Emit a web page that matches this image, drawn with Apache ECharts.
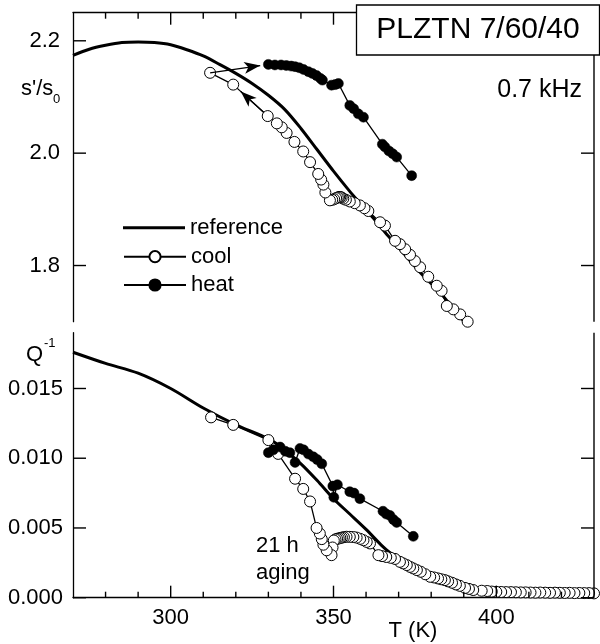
<!DOCTYPE html>
<html>
<head>
<meta charset="utf-8">
<script src="https://cdn.jsdelivr.net/npm/echarts@6/dist/echarts.min.js"></script>
<style>
  html, body { margin: 0; padding: 0; background: #fff; }
  #chart { width: 600px; height: 644px; }
</style>
</head>
<body>
<div id="chart"></div>
<script>
// ---- temperature axis ----
const tempLabels = [300, 350, 400];
const tempTicks = [280, 290, 300, 310, 320, 330, 340, 350, 360, 370, 380, 390, 400, 410, 420];

// ---- s'/s0 panel ----
const sTicks = [1.8, 2.0, 2.2];
const refTempS = [270, 275, 280, 285, 290, 295, 300, 305, 310, 315, 320, 325, 330, 335, 340, 345, 350, 355, 358, 362, 366, 370, 374, 378, 382, 386, 390];
const refS = [2.174, 2.185, 2.192, 2.197, 2.198, 2.197, 2.193, 2.184, 2.173, 2.158, 2.142, 2.124, 2.103, 2.078, 2.044, 2.006, 1.968, 1.932, 1.912, 1.886, 1.858, 1.832, 1.805, 1.779, 1.757, 1.729, 1.701];

const coolTempS = [391.2, 388.9, 386.8, 384.8, 383.2, 381.7, 379.1, 376.6, 375.0, 373.5,
  372.0, 370.4, 368.9, 365.8, 364.3, 360.7, 359.5, 358.1, 356.5, 355.0,
  353.8, 353.0, 352.5, 352.1, 351.7, 351.3, 350.8, 350.2, 349.6, 348.9,
  347.5, 346.9, 346.2, 345.3, 342.8, 340.7, 338.0, 335.6, 334.1, 332.6,
  329.8, 319.2, 312.1];
const coolS = [1.700, 1.713, 1.722, 1.728, 1.755, 1.764, 1.780, 1.797, 1.808, 1.819,
  1.829, 1.838, 1.844, 1.871, 1.877, 1.897, 1.902, 1.907, 1.911, 1.914,
  1.917, 1.919, 1.921, 1.922, 1.922, 1.921, 1.920, 1.918, 1.917, 1.916,
  1.930, 1.944, 1.953, 1.963, 1.984, 2.003, 2.020, 2.036, 2.046, 2.053,
  2.066, 2.122, 2.143];

const heatTempS = [330.0, 332.0, 333.9, 335.5, 337.0, 338.2, 339.5, 340.8, 342.3, 343.5,
  344.8, 346.0, 346.6, 349.4, 350.5, 351.5, 355.0, 356.2, 357.6, 359.2,
  365.0, 365.8, 367.0, 368.2, 369.4, 374.0];
const heatS = [2.158, 2.157, 2.157, 2.156, 2.155, 2.154, 2.152, 2.149, 2.145, 2.142,
  2.138, 2.133, 2.130, 2.121, 2.122, 2.124, 2.085, 2.079, 2.070, 2.064,
  2.016, 2.011, 2.004, 1.999, 1.993, 1.960];

// ---- Q^-1 panel ----
const qTicks = [0, 0.005, 0.010, 0.015];
const refTempQ = [270, 280, 290, 300, 310, 320, 330, 335, 340, 345, 350, 355, 360, 365, 368];
const refQ = [0.0176, 0.0168, 0.0161, 0.0150, 0.0136, 0.0124, 0.0114, 0.0106, 0.0096, 0.0084, 0.0071, 0.0060, 0.0049, 0.0037, 0.0031];

const coolTempQ = [430.0, 428.5, 427.0, 425.5, 424.0, 422.5, 421.0, 419.5, 418.0, 416.5,
  415.0, 413.5, 412.0, 410.5, 409.0, 407.5, 406.0, 404.5, 403.0, 401.5,
  400.0, 398.6, 397.2, 395.5, 392.9, 391.6, 390.4, 388.8, 387.6, 386.4,
  385.2, 384.2, 383.1, 382.1, 380.9, 379.7, 378.2, 376.8, 375.6, 374.5,
  373.5, 372.5, 371.4, 370.4, 368.9, 367.6, 366.2, 364.9, 363.8, 361.2,
  360.2, 359.2, 358.2, 357.1, 356.1, 355.0, 354.0, 353.2, 352.6, 352.1,
  351.6, 351.1, 350.6, 350.1, 349.7, 349.4, 347.9, 346.9, 346.4, 345.8,
  344.8, 342.8, 340.7, 338.2, 333.0, 330.0, 319.2, 312.4];
const coolQ = [0.00031, 0.00033, 0.00033, 0.00034, 0.00033, 0.00035, 0.00034, 0.00035, 0.00036, 0.00035,
  0.00036, 0.00037, 0.00036, 0.00037, 0.00038, 0.00038, 0.00039, 0.00040, 0.00040, 0.00041,
  0.00042, 0.00044, 0.00048, 0.00050, 0.00055, 0.00063, 0.00070, 0.00085, 0.00095, 0.00107,
  0.00117, 0.00126, 0.00132, 0.00138, 0.00145, 0.00150, 0.00168, 0.00186, 0.00198, 0.00210,
  0.00221, 0.00234, 0.00246, 0.00257, 0.00278, 0.00286, 0.00292, 0.00298, 0.00305, 0.00389,
  0.00400, 0.00412, 0.00422, 0.00431, 0.00435, 0.00436, 0.00437, 0.00434, 0.00431, 0.00428,
  0.00425, 0.00422, 0.00418, 0.00410, 0.00360, 0.00305, 0.00340, 0.00380, 0.00420, 0.00460,
  0.00500, 0.00690, 0.00780, 0.00853, 0.01031, 0.01130, 0.01239, 0.01293];

const heatTempQ = [330.0, 331.5, 333.6, 335.2, 336.6, 338.2, 339.7, 340.8, 342.3, 343.8,
  345.0, 346.4, 349.8, 350.1, 351.2, 355.0, 356.3, 358.1, 365.2, 366.2,
  367.3, 368.4, 369.4, 374.5];
const heatQ = [0.0104, 0.0106, 0.0108, 0.0105, 0.0104, 0.0097, 0.0107, 0.0106, 0.0103, 0.0101,
  0.0099, 0.0096, 0.0080, 0.0072, 0.0081, 0.0076, 0.0075, 0.0071, 0.0062, 0.0060,
  0.0059, 0.0056, 0.0054, 0.0044];

const T_MIN = 270, T_MAX = 430;
const S_MIN = 1.70, S_MAX = 2.25;
const Q_MIN = 0, Q_MAX = 0.019;

const FONT = '"Liberation Sans", Arial, sans-serif';
const zip = (xs, ys) => xs.map((x, i) => [x, ys[i]]);
const lerp = (a, b, t) => [a[0] + (b[0] - a[0]) * t, a[1] + (b[1] - a[1]) * t];

const coolPtsS = zip(coolTempS, coolS);
const heatPtsS = zip(heatTempS, heatS);

// arrow along the cooling path (towards lower T)
const cA = coolPtsS[coolPtsS.length - 3];
const cB = coolPtsS[coolPtsS.length - 2];
const coolArrow = [lerp(cA, cB, 0.12), lerp(cA, cB, 0.78)];
// arrow from the end of cooling to the start of heating
const hA = coolPtsS[coolPtsS.length - 1];
const hB = heatPtsS[0];
const heatArrow = [hA, lerp(hA, hB, 0.86)];

const arrowMark = (seg) => ({
  silent: true,
  animation: false,
  symbol: ['none', 'arrow'],
  symbolSize: [9, 16],
  label: { show: false },
  emphasis: { disabled: true },
  lineStyle: { color: '#000', width: 1.3, type: 'solid' },
  data: [[{ coord: seg[0] }, { coord: seg[1] }]]
});

const axisCol = { color: '#000', width: 1.3 };

function tempAxis(gridIndex, position) {
  return {
    type: 'value', gridIndex, position, min: T_MIN, max: T_MAX,
    axisLine: { show: true, lineStyle: axisCol },
    axisTick: { show: false },
    axisLabel: { show: position === 'bottom', customValues: tempLabels,
      fontSize: 22, fontFamily: FONT, color: '#000', margin: 9 },
    splitLine: { show: false }
  };
}
function valAxis(gridIndex, min, max, ticks, digits, margin) {
  return {
    type: 'value', gridIndex, position: 'left', min, max,
    axisLine: { show: true, lineStyle: axisCol },
    axisTick: { show: false },
    axisLabel: { show: true, customValues: ticks, fontSize: 22, fontFamily: FONT,
      color: '#000', margin, formatter: v => Number(v).toFixed(digits) },
    splitLine: { show: false }
  };
}

const lineBase = { type: 'line', animation: false, clip: true, emphasis: { disabled: true } };
const coolStyle = {
  symbol: 'circle', symbolSize: 11,
  itemStyle: { color: '#fff', borderColor: '#000', borderWidth: 1 },
  lineStyle: { color: '#000', width: 1.3 }
};
const heatStyle = {
  symbol: 'circle', symbolSize: 10,
  itemStyle: { color: '#000', borderColor: '#000', borderWidth: 0.5 },
  lineStyle: { color: '#000', width: 1.3 }
};
const refStyle = {
  symbol: 'none', showSymbol: false, smooth: 0.3,
  lineStyle: { color: '#000', width: 3 },
  itemStyle: { color: '#000' }
};

const legendText = { fontSize: 22, lineHeight: 22, fontFamily: FONT, color: '#000' };
const legendRow = (name, top, extra) => Object.assign({
  data: [name], left: 118, top, itemWidth: 62, itemHeight: 14,
  selectedMode: false, textStyle: legendText
}, extra);

const chart = echarts.init(document.getElementById('chart'), null, { renderer: 'canvas' });

chart.setOption({
  animation: false,
  backgroundColor: '#fff',
  grid: [
    { left: 73, right: 6, top: 12.7, height: 309 },
    { left: 73, right: 6, top: 332.7, height: 265 }
  ],
  xAxis: [tempAxis(0, 'top'), tempAxis(1, 'bottom')],
  yAxis: [
    valAxis(0, S_MIN, S_MAX, sTicks, 1, 13),
    valAxis(1, Q_MIN, Q_MAX, qTicks, 3, 10)
  ],
  legend: [
    legendRow('reference', 211.7, { icon: 'rect', itemHeight: 3, itemStyle: { color: '#000' } }),
    legendRow('cool', 240.7),
    legendRow('heat', 269)
  ],
  series: [
    Object.assign({}, lineBase, refStyle, { name: 'reference', xAxisIndex: 0, yAxisIndex: 0, z: 2,
      data: zip(refTempS, refS) }),
    Object.assign({}, lineBase, coolStyle, { name: 'cool', xAxisIndex: 0, yAxisIndex: 0, z: 3,
      data: coolPtsS, markLine: arrowMark(coolArrow) }),
    Object.assign({}, lineBase, heatStyle, { name: 'heat', xAxisIndex: 0, yAxisIndex: 0, z: 4,
      data: heatPtsS, markLine: arrowMark(heatArrow) }),
    Object.assign({}, lineBase, refStyle, { name: 'reference', xAxisIndex: 1, yAxisIndex: 1, z: 2,
      data: zip(refTempQ, refQ) }),
    Object.assign({}, lineBase, coolStyle, { name: 'cool', xAxisIndex: 1, yAxisIndex: 1, z: 3,
      data: zip(coolTempQ, coolQ) }),
    Object.assign({}, lineBase, heatStyle, { name: 'heat', xAxisIndex: 1, yAxisIndex: 1, z: 4,
      data: zip(heatTempQ, heatQ) })
  ]
});

// ---- inward tick marks and right-hand frame, placed through the axis scales ----
const px = (i, v) => chart.convertToPixel({ xAxisIndex: i }, v);
const py = (i, v) => chart.convertToPixel({ yAxisIndex: i }, v);
const LW = 1.4;
// vertical stroke of thickness LW centred on x
const vBar = (x, y1, y2) => ({
  type: 'rect', z: 50, silent: true,
  shape: { x: x - LW / 2, y: Math.min(y1, y2), width: LW, height: Math.abs(y2 - y1) },
  style: { fill: '#000' }
});
// horizontal stroke of thickness LW centred on y
const hBar = (x1, x2, y) => ({
  type: 'rect', z: 50, silent: true,
  shape: { x: Math.min(x1, x2), y: y - LW / 2, width: Math.abs(x2 - x1), height: LW },
  style: { fill: '#000' }
});

const frame = [];
const panels = [
  { xi: 0, yi: 0, yMin: S_MIN, yMax: S_MAX, yTicks: sTicks, edge: 'top' },
  { xi: 1, yi: 1, yMin: Q_MIN, yMax: Q_MAX, yTicks: qTicks, edge: 'bottom' }
];
panels.forEach(p => {
  const xL = px(p.xi, T_MIN), xR = px(p.xi, T_MAX);
  const yTop = py(p.yi, p.yMax), yBot = py(p.yi, p.yMin);
  frame.push(vBar(xR, yTop, yBot));
  const yEdge = p.edge === 'top' ? yTop : yBot;
  const dir = p.edge === 'top' ? 1 : -1;
  tempTicks.forEach(t => {
    const len = tempLabels.includes(t) ? 12 : 6;
    frame.push(vBar(px(p.xi, t), yEdge, yEdge + dir * len));
  });
  p.yTicks.forEach(v => {
    const y = py(p.yi, v);
    frame.push(hBar(xL, xL + 13, y));
    frame.push(hBar(xR - 13, xR, y));
  });
});

const textStyle = (text, fontSize, align) => ({
  text, fontSize, fontFamily: FONT, fill: '#000', align, verticalAlign: 'middle'
});

chart.setOption({
  graphic: frame.concat([
    { type: 'rect', z: 100, shape: { x: 356.5, y: 5, width: 243, height: 50 },
      style: { fill: '#fff', stroke: '#000', lineWidth: 1.3 } },
    { type: 'text', z: 101, x: 478, y: 30, style: textStyle('PLZTN 7/60/40', 30, 'center') },
    { type: 'text', z: 101, x: 582, y: 90, style: textStyle('0.7 kHz', 25, 'right') },
    { type: 'text', z: 101, x: 21, y: 89, style: textStyle("s'/s", 22, 'left') },
    { type: 'text', z: 101, x: 53, y: 99, style: textStyle('0', 13, 'left') },
    { type: 'text', z: 101, x: 26, y: 355, style: textStyle('Q', 22, 'left') },
    { type: 'text', z: 101, x: 44, y: 343, style: textStyle('-1', 13, 'left') },
    { type: 'text', z: 101, x: 256, y: 546, style: textStyle('21 h', 22, 'left') },
    { type: 'text', z: 101, x: 256, y: 573, style: textStyle('aging', 22, 'left') },
    { type: 'text', z: 101, x: 413, y: 631, style: textStyle('T (K)', 22, 'center') }
  ])
});
</script>
</body>
</html>
